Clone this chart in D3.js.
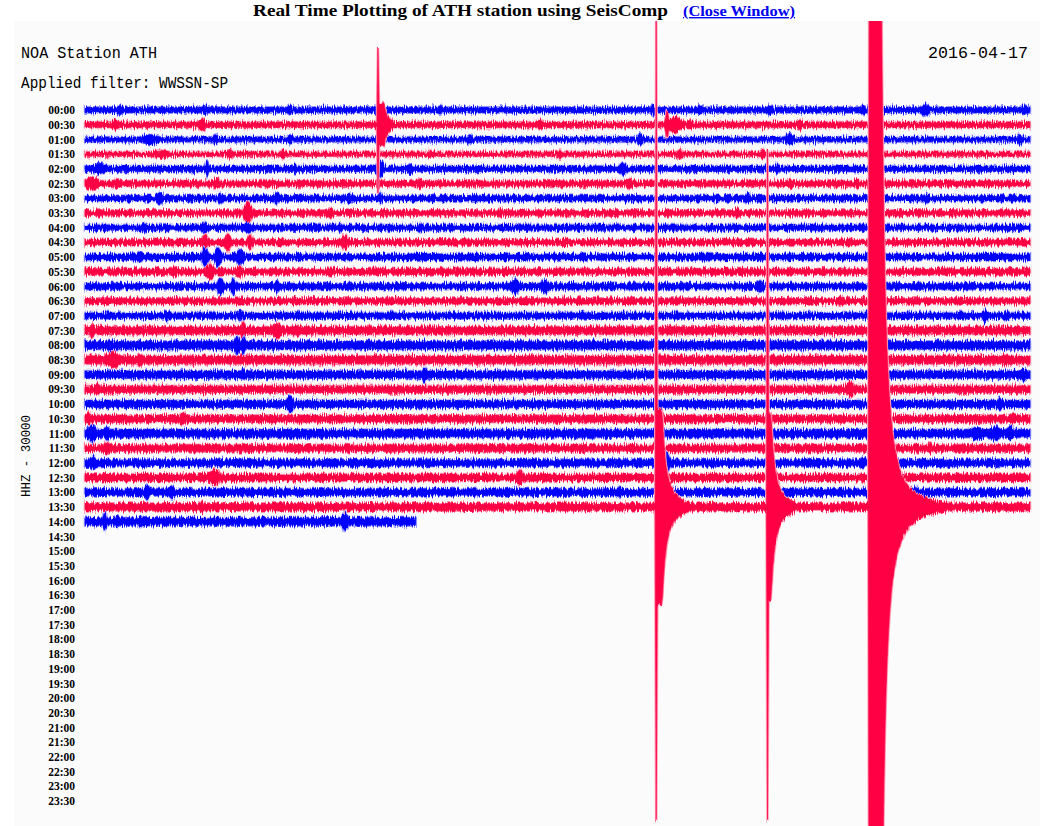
<!DOCTYPE html>
<html>
<head>
<meta charset="utf-8">
<script src="https://cdn.jsdelivr.net/npm/d3@7"></script>
<style>
body { margin: 0; background: #ffffff; }
</style>
</head>
<body>
<div id="heli"></div>
<script>

var title = "Real Time Plotting of ATH station using SeisComp";
var linkText = "(Close Window)";
var stationText = "NOA Station ATH";
var filterText = "Applied filter: WWSSN-SP";
var dateText = "2016-04-17";
var channelText = "HHZ - 30000";

var rowLabels = ["00:00","00:30","01:00","01:30","02:00","02:30","03:00","03:30",
                 "04:00","04:30","05:00","05:30","06:00","06:30","07:00","07:30",
                 "08:00","08:30","09:00","09:30","10:00","10:30","11:00","11:30",
                 "12:00","12:30","13:00","13:30","14:00","14:30","15:00","15:30",
                 "16:00","16:30","17:00","17:30","18:00","18:30","19:00","19:30",
                 "20:00","20:30","21:00","21:30","22:00","22:30","23:00","23:30"];

// background noise level (counts, half amplitude) of each recorded half hour
var rowNoise = [5500, 5500, 5000, 4500, 5500, 5500, 5500, 5500, 5500, 5500,
                6000, 6000, 6000, 6000, 6000, 7500, 8000, 8000, 7500, 7000,
                7000, 7000, 8000, 7000, 7000, 7000, 7000, 7500, 8000];

// data stops inside the last row (minutes after 14:00)
var lastMinute = 10.5;

// small bursts: [row, minute, amplitude counts, duration minutes]
var bursts = [
  [0,1.11,10000,.19],[0,3.81,10000,.19],[0,6.51,10000,.19],[0,9.30,12000,.25],[0,11.27,8000,.19],
  [0,18.03,10000,.19],[0,19.52,10000,.19],[0,21.75,10000,.19],[0,24.70,10000,.19],[0,26.67,12000,.32],[0,29.84,10000,.25],
  [1,0.95,12000,.25],[1,3.71,12000,.25],[1,14.44,10000,.19],[1,18.48,30000,.13],[1,18.73,16000,.63],
  [1,19.21,10000,.19],[1,22.70,10000,.19],[1,25.24,10000,.19],
  [2,2.06,10000,.63],[2,4.13,10000,.19],[2,6.51,10000,.19],[2,12.22,10000,.19],[2,17.62,12000,.19],[2,22.38,12000,.32],[2,29.68,10000,.19],
  [3,2.38,8000,.63],[3,4.60,10000,.19],[3,6.29,10000,.19],[3,10.95,8000,.19],[3,15.08,8000,.19],[3,18.89,10000,.19],[3,21.52,10000,.19],
  [4,0.48,12000,.48],[4,3.87,16000,.13],[4,6.67,10000,.19],[4,9.37,18000,.32],[4,10.32,10000,.19],[4,17.08,14000,.25],[4,21.97,10000,.19],
  [5,0.22,14000,.51],[5,1.02,10000,.25],[5,4.19,12000,.25],[5,10.63,10000,.19],[5,17.30,10000,.19],[5,22.38,10000,.19],[5,24.51,10000,.19],
  [6,2.38,12000,.25],[6,4.29,10000,.19],[6,6.10,12000,.19],[6,8.41,10000,.19],[6,9.37,12000,.13],[6,21.05,12000,.19],[6,26.73,10000,.19],
  [7,5.17,22000,.32],[7,7.78,10000,.19],[7,13.17,10000,.19],[7,20.70,10000,.19],
  [8,1.90,10000,.19],[8,3.81,12000,.25],[8,5.17,10000,.25],[8,8.10,10000,.19],[8,10.63,10000,.19],
  [9,3.81,18000,.19],[9,4.54,18000,.25],[9,5.24,16000,.19],[9,8.25,16000,.25],
  [10,1.75,10000,.19],[10,3.81,20000,.25],[10,4.22,20000,.25],[10,4.92,16000,.32],
  [11,2.86,10000,.19],[11,3.97,16000,.32],[11,4.92,12000,.25],[11,7.78,10000,.19],
  [12,4.29,18000,.25],[12,4.70,16000,.19],[12,6.10,12000,.19],[12,13.65,16000,.32],[12,14.60,14000,.32],[12,21.43,12000,.25],
  [13,23.97,10000,.25],
  [14,2.60,10000,.19],[14,4.92,10000,.19],[14,28.57,12000,.25],[14,29.27,10000,.19],
  [15,0.22,16000,.13],[15,5.02,20000,.13],[15,6.10,16000,.32],[15,6.73,12000,.19],
  [16,0.79,12000,.19],[16,4.83,18000,.19],[16,5.02,20000,.13],
  [17,0.89,16000,.51],[17,1.75,12000,.19],[17,29.21,12000,.19],
  [18,5.02,12000,.13],[18,10.79,16000,.19],[18,29.78,12000,.25],
  [19,0.38,12000,.19],[19,24.29,16000,.32],
  [20,6.51,18000,.25],[20,29.05,12000,.19],
  [21,0.10,12000,.19],[21,3.11,14000,.19],[21,29.46,12000,.25],
  [22,0.22,18000,.32],[22,0.70,14000,.19],[22,28.32,14000,.38],[22,28.89,14000,.38],[22,29.37,14000,.25],
  [23,0.70,12000,.19],[23,26.83,12000,.19],
  [24,0.25,14000,.19],[24,4.29,10000,.19],[24,18.48,20000,.19],[24,24.70,12000,.19],
  [25,4.13,16000,.51],[25,13.81,16000,.25],
  [26,1.97,16000,.19],[26,2.76,14000,.19],[26,16.98,12000,.19],[26,26.35,12000,.32],
  [27,3.71,12000,.19],
  [28,0.63,20000,.13],[28,1.02,12000,.13],[28,1.75,12000,.13],[28,8.25,18000,.25]
];

// earthquakes: [row, minute, spike up, spike down, body amplitude, plateau min, decay min]
var quakes = [
  [1, 9.30, 160000, 140000, 44000, 0.19, 0.20],
  [27, 18.13, 1000000, 640000, 200000, 0.19, 0.24],
  [27, 21.68, 730000, 640000, 190000, 0.10, 0.23],
  [27, 24.89, 0, 0, 1220000, 0.38, 0.20]
];

var traceColors = ["#0000ff", "#ff0044"];
var haloColors = ["#a9a9ff", "#ffa6bd"];

var width = 1057, height = 826;

var svg = d3.select("#heli")
    .append("svg")
    .attr("width", width)
    .attr("height", height);

var defs = svg.append("defs");

// ragged edge look of a densely drawn seismogram trace
var jag = defs.append("filter")
    .attr("id", "jag")
    .attr("filterUnits", "userSpaceOnUse")
    .attr("x", 0).attr("y", 0)
    .attr("width", width).attr("height", height);
jag.append("feTurbulence")
    .attr("type", "fractalNoise")
    .attr("baseFrequency", "0.9 0.14")
    .attr("numOctaves", 1)
    .attr("seed", 7)
    .attr("result", "noise");
jag.append("feColorMatrix")
    .attr("in", "noise")
    .attr("type", "matrix")
    .attr("values", "0 0 0 0 0.5  0 1 0 0 0  0 0 0 0 0  0 0 0 0 1")
    .attr("result", "shift");
jag.append("feDisplacementMap")
    .attr("in", "SourceGraphic")
    .attr("in2", "shift")
    .attr("scale", 9)
    .attr("xChannelSelector", "R")
    .attr("yChannelSelector", "G");

defs.append("clipPath")
    .attr("id", "panelClip")
    .append("rect")
    .attr("x", 14)
    .attr("y", 21)
    .attr("width", 1026)
    .attr("height", 805);

// header
svg.append("text")
    .attr("x", 253)
    .attr("y", 16)
    .attr("textLength", 415)
    .attr("lengthAdjust", "spacingAndGlyphs")
    .style("font-family", "'Liberation Serif', serif")
    .style("font-weight", "bold")
    .style("font-size", "16.5px")
    .style("fill", "#000")
    .text(title);

svg.append("text")
    .attr("x", 683)
    .attr("y", 16)
    .attr("textLength", 112)
    .attr("lengthAdjust", "spacingAndGlyphs")
    .style("font-family", "'Liberation Serif', serif")
    .style("font-weight", "bold")
    .style("font-size", "14px")
    .style("fill", "#0000ee")
    .style("text-decoration", "underline")
    .text(linkText);

// image panel
svg.append("rect")
    .attr("x", 14)
    .attr("y", 21)
    .attr("width", 1026)
    .attr("height", 805)
    .style("fill", "#fbfbfb");

var monoFont = "'Liberation Mono', 'DejaVu Sans Mono', monospace";

svg.append("text")
    .attr("x", 21).attr("y", 58)
    .attr("textLength", 136).attr("lengthAdjust", "spacingAndGlyphs")
    .style("font-family", monoFont).style("font-size", "16px")
    .text(stationText);

svg.append("text")
    .attr("x", 21).attr("y", 88)
    .attr("textLength", 207).attr("lengthAdjust", "spacingAndGlyphs")
    .style("font-family", monoFont).style("font-size", "16px")
    .text(filterText);

svg.append("text")
    .attr("x", 928).attr("y", 58)
    .attr("textLength", 100).attr("lengthAdjust", "spacingAndGlyphs")
    .style("font-family", monoFont).style("font-size", "16px")
    .text(dateText);

svg.append("text")
    .attr("transform", "translate(30,456) rotate(-90)")
    .attr("text-anchor", "middle")
    .attr("textLength", 82).attr("lengthAdjust", "spacingAndGlyphs")
    .style("font-family", monoFont).style("font-size", "13px")
    .text(channelText);

// scales
var x = d3.scaleLinear().domain([0, 30]).range([85, 1030]);
var y = d3.scalePoint().domain(rowLabels).range([110, 801]);
var amp = d3.scaleLinear().domain([0, 30000]).range([0, y.step()]);

svg.append("g")
    .selectAll("text")
    .data(rowLabels)
    .enter()
    .append("text")
    .attr("x", 75)
    .attr("y", function(d) { return y(d); })
    .attr("dy", "0.36em")
    .attr("text-anchor", "end")
    .style("font-family", "'Liberation Serif', serif")
    .style("font-weight", "bold")
    .style("font-size", "11.5px")
    .text(function(d) { return d; });

// envelope of one row at minute t
function envelope(row, t) {
    var up = rowNoise[row], down = rowNoise[row];
    bursts.forEach(function(b) {
        if (b[0] != row) return;
        var k = 1 - Math.abs(t - b[1]) / (b[3] / 2);
        if (k > 0) {
            var a = rowNoise[row] + (b[2] - rowNoise[row]) * Math.pow(k, 0.8);
            up = Math.max(up, a);
            down = Math.max(down, a);
        }
    });
    quakes.forEach(function(q) {
        if (q[0] != row) return;
        var dt = t - q[1];
        if (Math.abs(dt) < 1 / 60) {
            up = Math.max(up, q[2]);
            down = Math.max(down, q[3]);
        }
        if (dt >= 0) {
            var a = dt <= q[5] ? q[4] : q[4] * Math.pow(1 + (dt - q[5]) / q[6], -2);
            up = Math.max(up, a);
            down = Math.max(down, a);
        }
    });
    return [up, down];
}

var traces = svg.append("g").attr("clip-path", "url(#panelClip)")
    .append("g").attr("filter", "url(#jag)");

// rows with an earthquake go on top, as in the original plot
var drawOrder = d3.range(rowNoise.length).sort(function(a, b) {
    var qa = quakes.some(function(q) { return q[0] == a; }) ? 1 : 0;
    var qb = quakes.some(function(q) { return q[0] == b; }) ? 1 : 0;
    return qa - qb || a - b;
});

drawOrder.forEach(function(row) {
    var end = row == rowNoise.length - 1 ? lastMinute : 30;
    var samples = d3.range(0, end + 1e-6, 1 / 30).map(function(t) {
        var e = envelope(row, t);
        return { t: t, up: e[0], down: e[1] };
    });
    var base = y(rowLabels[row]);
    var area = d3.area()
        .x(function(d) { return x(d.t); })
        .y0(function(d) { return base + amp(d.down); })
        .y1(function(d) { return base - amp(d.up); });

    traces.append("path")
        .attr("d", area(samples))
        .style("fill", haloColors[row % 2])
        .style("stroke", haloColors[row % 2])
        .style("stroke-width", 2.6);

    traces.append("path")
        .attr("d", area(samples))
        .style("fill", traceColors[row % 2])
        .style("stroke", traceColors[row % 2])
        .style("stroke-width", 0.6);
});

</script>
</body>
</html>
